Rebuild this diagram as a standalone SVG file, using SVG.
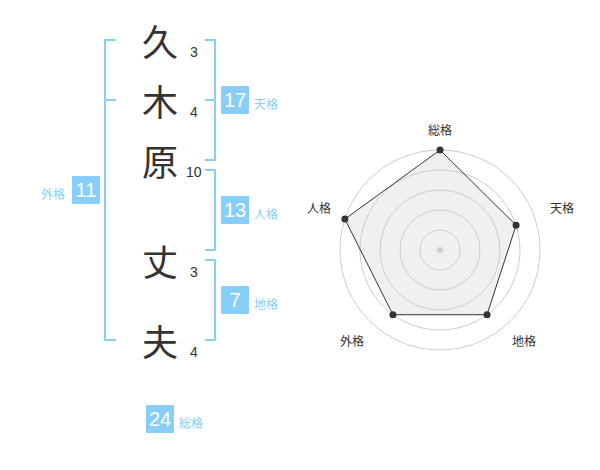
<svg xmlns="http://www.w3.org/2000/svg" width="600" height="470" viewBox="0 0 600 470">
<style>
.ch{font-family:"Noto Sans CJK JP","Noto Sans CJK SC",sans-serif;font-size:36px;fill:#333;text-anchor:middle;dominant-baseline:central}
.st{font-family:"Liberation Sans",Arial,sans-serif;font-size:14px;fill:#333}
.br{fill:none;stroke:#87cefa;stroke-width:2}
.bx{fill:#87cefa}
.bn{font-family:"Liberation Sans",Arial,sans-serif;font-size:20px;fill:#fff;text-anchor:middle}
.lb{font-family:"Noto Sans CJK JP","Noto Sans CJK SC",sans-serif;font-size:12px;fill:#87cefa}
.rl{font-family:"Noto Sans CJK JP","Noto Sans CJK SC",sans-serif;font-size:12px;fill:#333;text-anchor:middle}
.ring{fill:none;stroke:#cccccc;stroke-width:1}
.pt{fill:#333}
</style>
<rect width="600" height="470" fill="#fff"/>
<g id="chars">
<g id="c1"><text class="ch" x="160" y="40">久</text><text class="st" x="190" y="57">3</text></g>
<g id="c2"><text class="ch" x="160" y="100">木</text><text class="st" x="190" y="117">4</text></g>
<g id="c3"><text class="ch" x="160" y="160">原</text><text class="st" x="186" y="177">10</text></g>
<g id="c4"><text class="ch" x="160" y="260">丈</text><text class="st" x="190" y="277">3</text></g>
<g id="c5"><text class="ch" x="160" y="340">夫</text><text class="st" x="190" y="357">4</text></g>
</g>
<g id="connectors">
<path class="br" d="M116 40H105V340H116M105 100H116"/>
<path class="br" d="M205 40H215V160H205M205 100H215"/>
<path class="br" d="M205 170H215V250H205"/>
<path class="br" d="M205 260H215V340H205"/>
</g>
<g id="tenkaku"><rect class="bx" x="221" y="86" width="28" height="28"/><text class="bn" x="235" y="107">17</text><text class="lb" x="254" y="109">天格</text></g>
<g id="jinkaku"><rect class="bx" x="221" y="196" width="28" height="28"/><text class="bn" x="235" y="217">13</text><text class="lb" x="254" y="219">人格</text></g>
<g id="chikaku"><rect class="bx" x="221" y="286" width="28" height="28"/><text class="bn" x="235" y="307">7</text><text class="lb" x="254" y="309">地格</text></g>
<g id="gaikaku"><rect class="bx" x="72" y="176" width="28" height="28"/><text class="bn" x="86" y="197">11</text><text class="lb" x="65" y="199" text-anchor="end">外格</text></g>
<g id="soukaku"><rect class="bx" x="146" y="405" width="28" height="28"/><text class="bn" x="160" y="426">24</text><text class="lb" x="179" y="428">総格</text></g>
<g id="radar">
<polygon points="440,150 516.08,225.28 487.02,314.72 392.98,314.72 344.89,219.1" fill="#f0f0f0" stroke="none"/>
<circle class="ring" cx="440" cy="250" r="20"/>
<circle class="ring" cx="440" cy="250" r="40"/>
<circle class="ring" cx="440" cy="250" r="60"/>
<circle class="ring" cx="440" cy="250" r="80"/>
<circle class="ring" cx="440" cy="250" r="100"/>
<circle cx="440" cy="250" r="3" fill="#cccccc"/>
<polygon points="440,150 516.08,225.28 487.02,314.72 392.98,314.72 344.89,219.1" fill="none" stroke="#333" stroke-width="1"/>
<circle class="pt" cx="440" cy="150" r="3.5"/>
<circle class="pt" cx="516.08" cy="225.28" r="3.5"/>
<circle class="pt" cx="487.02" cy="314.72" r="3.5"/>
<circle class="pt" cx="392.98" cy="314.72" r="3.5"/>
<circle class="pt" cx="344.89" cy="219.1" r="3.5"/>
<text class="rl" x="440" y="135">総格</text>
<text class="rl" x="562" y="213">天格</text>
<text class="rl" x="524" y="346">地格</text>
<text class="rl" x="352" y="346">外格</text>
<text class="rl" x="319" y="213">人格</text>
</g>
</svg>
